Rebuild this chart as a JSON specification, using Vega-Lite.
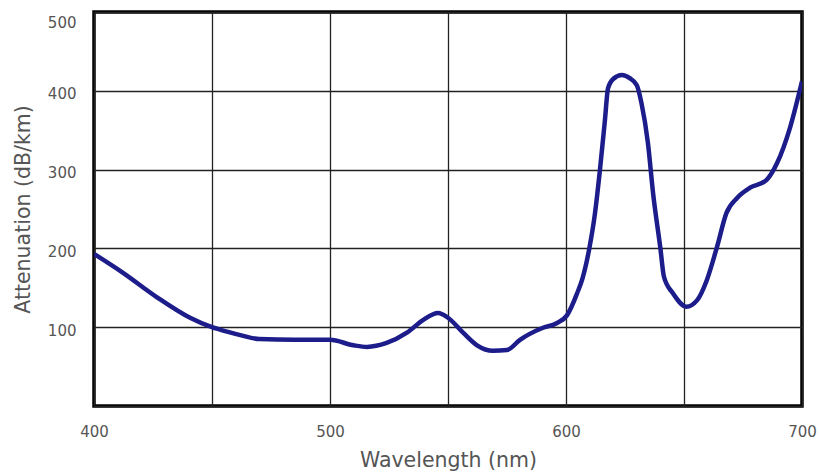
{
  "$schema": "https://vega.github.io/schema/vega-lite/v6.json",
  "width": 708,
  "height": 394,
  "autosize": "none",
  "padding": {"left": 94, "top": 12, "right": 17, "bottom": 66},
  "background": "white",
  "config": {
    "view": {"stroke": "black", "strokeWidth": 3.5},
    "font": "DejaVu Sans"
  },
  "data": {
    "values": [
      {"nm": 400, "att": 193},
      {"nm": 412.3, "att": 169},
      {"nm": 426.7, "att": 138},
      {"nm": 440.7, "att": 112},
      {"nm": 450, "att": 100},
      {"nm": 456.8, "att": 94},
      {"nm": 462, "att": 90},
      {"nm": 470, "att": 85},
      {"nm": 485, "att": 84},
      {"nm": 500, "att": 84},
      {"nm": 510, "att": 77},
      {"nm": 515.7, "att": 75},
      {"nm": 524, "att": 80},
      {"nm": 532.6, "att": 93},
      {"nm": 539.4, "att": 109},
      {"nm": 545.8, "att": 118},
      {"nm": 550, "att": 112},
      {"nm": 556.4, "att": 93},
      {"nm": 562.3, "att": 77},
      {"nm": 569, "att": 70},
      {"nm": 575, "att": 71},
      {"nm": 580.5, "att": 84},
      {"nm": 590, "att": 99},
      {"nm": 596, "att": 105},
      {"nm": 600.4, "att": 115},
      {"nm": 604.7, "att": 143},
      {"nm": 607, "att": 162},
      {"nm": 610, "att": 202},
      {"nm": 612.3, "att": 245},
      {"nm": 614.4, "att": 300},
      {"nm": 616.5, "att": 363},
      {"nm": 617.8, "att": 403},
      {"nm": 620, "att": 415},
      {"nm": 623.7, "att": 420},
      {"nm": 627, "att": 416},
      {"nm": 630, "att": 407},
      {"nm": 632, "att": 384},
      {"nm": 634.7, "att": 334},
      {"nm": 636.9, "att": 270},
      {"nm": 640, "att": 200},
      {"nm": 641.5, "att": 164},
      {"nm": 645.3, "att": 143},
      {"nm": 651, "att": 126},
      {"nm": 655.5, "att": 134},
      {"nm": 659.7, "att": 160},
      {"nm": 664, "att": 202},
      {"nm": 668, "att": 245},
      {"nm": 672.5, "att": 264},
      {"nm": 678, "att": 277},
      {"nm": 685, "att": 287},
      {"nm": 689.4, "att": 308},
      {"nm": 695, "att": 354},
      {"nm": 700, "att": 412}
    ]
  },
  "mark": {"type": "line", "color": "#1c1c8a", "strokeWidth": 4.5, "interpolate": "monotone", "clip": true},
  "encoding": {
    "x": {
      "field": "nm",
      "type": "quantitative",
      "scale": {"domain": [400, 700], "nice": false, "zero": false},
      "axis": {
        "title": "Wavelength (nm)",
        "values": [400, 450, 500, 550, 600, 650, 700],
        "labelExpr": "datum.value % 100 === 0 ? datum.label : ''",
        "grid": true,
        "gridColor": "#222",
        "gridWidth": 1.3,
        "gridOpacity": 1,
        "domain": false,
        "ticks": false,
        "labelPadding": 18,
        "labelFontSize": 15,
        "labelColor": "#555",
        "labelFlush": false,
        "titleFontSize": 20.5,
        "titleFontWeight": "normal",
        "titleColor": "#555",
        "titlePadding": 11
      }
    },
    "y": {
      "field": "att",
      "type": "quantitative",
      "scale": {"domain": [0, 500], "nice": false},
      "axis": {
        "title": "Attenuation (dB/km)",
        "values": [0, 100, 200, 300, 400, 500],
        "labelExpr": "datum.value === 0 ? '' : datum.label",
        "grid": true,
        "gridColor": "#222",
        "gridWidth": 1.3,
        "gridOpacity": 1,
        "domain": false,
        "ticks": false,
        "labelPadding": 18,
        "labelFontSize": 15,
        "labelColor": "#555",
        "labelFlush": true,
        "labelOffset": 3,
        "titleFontSize": 20.5,
        "titleFontWeight": "normal",
        "titleColor": "#555",
        "titlePadding": 14
      }
    }
  }
}
